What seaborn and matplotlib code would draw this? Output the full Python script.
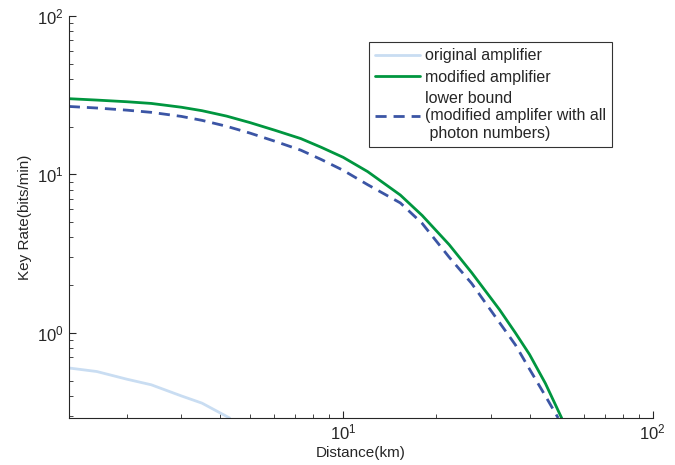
import numpy as np
import pandas as pd
import matplotlib
matplotlib.use("Agg")
import matplotlib.pyplot as plt
import seaborn as sns

# values (log-log)
dist_orig = [1.3, 1.6, 2.0, 2.4, 3.0, 3.5, 4.3]
rate_orig = [0.60, 0.57, 0.51, 0.47, 0.40, 0.36, 0.29]

dist_mod = [1.3, 1.6, 2.0, 2.4, 3.0, 3.5, 4.2, 5.0, 6.0, 7.3, 8.5, 10, 12, 15.3, 18, 22, 26, 32, 36, 40, 45, 50.8]
rate_mod = [30.0, 29.4, 28.7, 28.0, 26.5, 25.2, 23.3, 21.2, 19.0, 16.8, 14.8, 12.8, 10.4, 7.4, 5.5, 3.6, 2.4, 1.40, 1.00, 0.73, 0.48, 0.29]

dist_low = [1.3, 1.6, 2.0, 2.4, 3.0, 3.5, 4.2, 5.0, 6.0, 7.3, 8.5, 10, 12, 15.3, 18, 22, 26, 32, 36, 40, 45, 49.5]
rate_low = [26.8, 26.2, 25.4, 24.6, 23.2, 21.9, 20.1, 18.2, 16.2, 14.2, 12.4, 10.6, 8.6, 6.6, 4.9, 3.0, 2.05, 1.16, 0.84, 0.59, 0.40, 0.29]

labels = ["original amplifier", "modified amplifier",
          "lower bound\n(modified amplifer with all\n photon numbers)"]


def build_frame():
    parts = []
    for d, r, lab in zip([dist_orig, dist_mod, dist_low], [rate_orig, rate_mod, rate_low], labels):
        parts.append(pd.DataFrame({"Distance": d, "Rate": r, "Series": lab}))
    return pd.concat(parts, ignore_index=True)


sns.set_style("ticks")
plt.rcParams['font.family'] = ['Liberation Sans', 'DejaVu Sans']
plt.rcParams['mathtext.fontset'] = 'custom'
plt.rcParams['mathtext.rm'] = 'Liberation Sans'

df = build_frame()
palette = {labels[0]: "#c9ddf2", labels[1]: "#00963f", labels[2]: "#3b55a5"}

fig = plt.figure(figsize=(6.75, 4.65), dpi=100)
ax = fig.add_axes([0.102, 0.101, 0.865, 0.865])
sns.lineplot(data=df, x="Distance", y="Rate", hue="Series", style="Series",
             palette=palette, dashes={labels[0]: "", labels[1]: "", labels[2]: (4, 2.5)},
             linewidth=2, sort=False, ax=ax)

ax.set_xscale("log")
ax.set_yscale("log")
ax.set_xlim(1.3, 100)
ax.set_ylim(0.29, 100)
ax.set_xlabel("Distance(km)", fontsize=11, labelpad=2)
ax.set_ylabel("Key Rate(bits/min)", fontsize=11)
ax.tick_params(which="both", direction="in", labelsize=12)
ax.tick_params(which="major", length=5)
ax.tick_params(which="minor", length=3)
sns.despine(ax=ax)

leg = ax.legend(loc="upper left", bbox_to_anchor=(0.50, 0.955), fontsize=11.5,
                frameon=True, fancybox=False, edgecolor="black", handlelength=2.8,
                handletextpad=0.3, borderpad=0.4, labelspacing=0.4)
leg.get_frame().set_linewidth(0.8)

fig.savefig("out.png", dpi=100)
